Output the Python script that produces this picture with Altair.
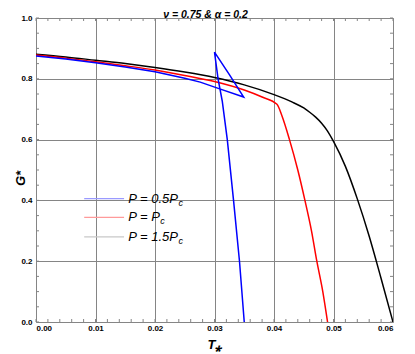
import altair as alt
import pandas as pd

# ---- data ----
black_T = [0.0, 0.005, 0.01, 0.015, 0.02, 0.025, 0.03, 0.035, 0.04, 0.043, 0.045, 0.046,
           0.047, 0.048, 0.049, 0.05, 0.052, 0.054, 0.056, 0.058, 0.06]
black_G = [0.881, 0.872, 0.861, 0.850, 0.837, 0.822, 0.804, 0.780, 0.748, 0.724, 0.704, 0.690,
           0.674, 0.654, 0.628, 0.594, 0.512, 0.405, 0.282, 0.143, 0.0]

red_T = [0.0, 0.005, 0.01, 0.015, 0.02, 0.025, 0.03, 0.035, 0.038, 0.0405, 0.0413, 0.0426,
         0.044, 0.0452, 0.0463, 0.0472, 0.0482, 0.049]
red_G = [0.878, 0.868, 0.856, 0.843, 0.829, 0.811, 0.791, 0.763, 0.740, 0.716, 0.680, 0.600,
         0.500, 0.400, 0.300, 0.200, 0.100, 0.0]

blue_T = [0.0, 0.005, 0.01, 0.015, 0.02, 0.025, 0.0276, 0.031, 0.0349, 0.0325, 0.0300,
          0.0306, 0.0313, 0.03215, 0.0332, 0.0342, 0.0350]
blue_G = [0.875, 0.865, 0.853, 0.839, 0.823, 0.802, 0.789, 0.766, 0.740, 0.814, 0.888,
          0.800, 0.727, 0.600, 0.400, 0.200, 0.0]

x_ticks = [0.0, 0.01, 0.02, 0.03, 0.04, 0.05, 0.06]
y_ticks = [0.0, 0.2, 0.4, 0.6, 0.8, 1.0]
x_minor = [round(0.002 * k, 4) for k in range(31)]
y_minor = [round(0.05 * k, 2) for k in range(21)]

legend_labels = ["P = 0.5P", "P = P", "P = 1.5P"]
legend_G = [0.406, 0.344, 0.280]
legend_colors = ["#9a9aff", "#ff9a9a", "#c8c8c8"]

title_text = "ν = 0.75 & α = 0.2"

# ---- build tables ----
rows = []
for name, Ts, Gs in [("black", black_T, black_G), ("red", red_T, red_G)]:
    for i, (t, g) in enumerate(zip(Ts, Gs)):
        rows.append({"series": name, "T": t, "G": g, "i": i})
df_smooth = pd.DataFrame(rows)
df_blue = pd.DataFrame({"T": blue_T, "G": blue_G, "i": list(range(len(blue_T)))})

leg = pd.DataFrame({
    "label": legend_labels,
    "G": legend_G,
    "lc": legend_colors,
    "x0": [0.0081] * 3,
    "x1": [0.0148] * 3,
    "tx": [0.0155] * 3,
    "cx": [0.02395, 0.0209, 0.02395],
})

W, H = 357, 304
xs = alt.Scale(domain=[0, 0.06], nice=False, zero=False)
ys = alt.Scale(domain=[0, 1], nice=False, zero=False)
FONT = "Liberation Sans"
GRID = "#858585"

x_axis = alt.Axis(
    values=x_ticks, format=".2f", grid=True, gridColor=GRID, gridOpacity=1,
    ticks=False, domain=False, labelFont=FONT, labelFontWeight="bold",
    labelFontSize=8, labelPadding=2, labelColor="#000",
    title="T⁎", titleFont=FONT, titleFontSize=13, titleFontStyle="italic",
    titleFontWeight="bold", titlePadding=6, titleColor="#000")
y_axis = alt.Axis(
    values=y_ticks, format=".1f", grid=True, gridColor=GRID, gridOpacity=1,
    ticks=False, domain=False, labelFont=FONT, labelFontWeight="bold",
    labelFontSize=8, labelPadding=4, labelColor="#000",
    title="G*", titleFont=FONT, titleFontSize=13, titleFontStyle="italic",
    titleFontWeight="bold", titleColor="#000", titleAngle=-90,
    titleX=-16, titleY=160, titleAlign="center", titleBaseline="middle")

lines = alt.Chart(df_smooth).mark_line(strokeWidth=1.5, clip=True, interpolate="monotone").encode(
    x=alt.X("T:Q", scale=xs, axis=x_axis),
    y=alt.Y("G:Q", scale=ys, axis=y_axis),
    color=alt.Color("series:N", scale=alt.Scale(domain=["black", "red"],
                                                range=["#000000", "#ff0000"]),
                    legend=None),
    order="i:Q",
)
blue = alt.Chart(df_blue).mark_line(strokeWidth=1.5, clip=True, color="#0000ff").encode(
    x=alt.X("T:Q", scale=xs), y=alt.Y("G:Q", scale=ys), order="i:Q")

xm = pd.DataFrame({"T": x_minor})
ym = pd.DataFrame({"G": y_minor})
tick_col = "#858585"
xb = alt.Chart(xm).mark_rule(color=tick_col).encode(
    x=alt.X("T:Q", scale=xs), y=alt.value(H), y2=alt.value(H - 3))
xt = alt.Chart(xm).mark_rule(color=tick_col).encode(
    x=alt.X("T:Q", scale=xs), y=alt.value(0), y2=alt.value(3))
yl = alt.Chart(ym).mark_rule(color=tick_col).encode(
    y=alt.Y("G:Q", scale=ys), x=alt.value(0), x2=alt.value(3))
yr = alt.Chart(ym).mark_rule(color=tick_col).encode(
    y=alt.Y("G:Q", scale=ys), x=alt.value(W), x2=alt.value(W - 3))

lc = alt.Chart(leg)
leg_lines = lc.mark_rule(strokeWidth=1.2).encode(
    x=alt.X("x0:Q", scale=xs), x2="x1:Q", y=alt.Y("G:Q", scale=ys),
    color=alt.Color("lc:N", scale=None))
leg_text = lc.mark_text(align="left", baseline="middle", font=FONT, fontSize=13,
                        fontStyle="italic", color="#000").encode(
    x=alt.X("tx:Q", scale=xs), y=alt.Y("G:Q", scale=ys), text="label:N")
leg_sub = lc.mark_text(align="left", baseline="middle", font=FONT, fontSize=9,
                       fontStyle="italic", color="#000", dy=4).encode(
    x=alt.X("cx:Q", scale=xs), y=alt.Y("G:Q", scale=ys), text=alt.value("c"))

title_mark = alt.Chart(pd.DataFrame({"t": [title_text]})).mark_text(
    align="center", baseline="alphabetic", font=FONT, fontSize=10.5, fontStyle="italic",
    fontWeight="bold", color="#000").encode(
    x=alt.value(W / 2 - 9), y=alt.value(-0.5), text="t:N")

chart = alt.layer(xb, xt, yl, yr, lines, blue, leg_lines, leg_text, leg_sub, title_mark).properties(
    width=W, height=H,
    autosize=alt.AutoSizeParams(type="none"),
    padding={"left": 28, "top": 10, "right": 10, "bottom": 30},
).configure_view(stroke="#858585", strokeWidth=1).configure(background="white")

chart.save("out.html", embed_options={"renderer": "svg", "actions": False})
